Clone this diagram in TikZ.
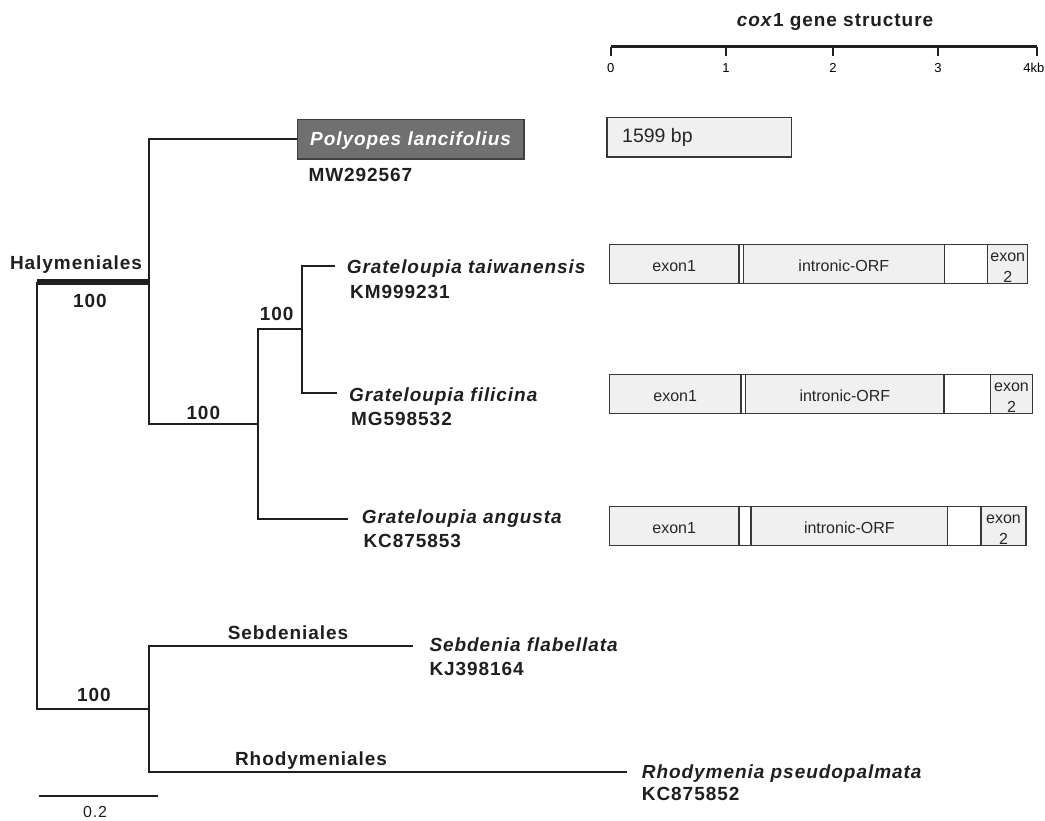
\documentclass[tikz,border=0pt]{standalone}
\usepackage{fontspec}
\setmainfont{Liberation Sans}
\newfontfamily\treefont{Liberation Sans}[LetterSpace=5]
\usepackage{tikz}

\definecolor{segfill}{gray}{0.94}
\definecolor{segline}{gray}{0.22}
\definecolor{polyfill}{gray}{0.44}
\definecolor{ink}{gray}{0.12}

\tikzset{
  branch/.style={line width=2pt, draw=ink},
  taxon/.style={font=\treefont\bfseries\itshape\fontsize{19}{21}\selectfont, text=ink, inner sep=0pt, text height=13.6pt, text depth=0pt, anchor=west},
  accno/.style={font=\treefont\bfseries\fontsize{19}{21}\selectfont, text=ink, inner sep=0pt, text height=13.6pt, text depth=0pt, anchor=west},
  clade/.style={font=\treefont\bfseries\fontsize{19}{21}\selectfont, text=ink, inner sep=0pt, text height=13.6pt, text depth=0pt},
  seg/.style={draw=segline, line width=1.2pt, fill=segfill},
  gapseg/.style={draw=segline, line width=1.2pt, fill=white},
  genetxt/.style={font=\fontsize{16}{18}\selectfont, text=black!85, inner sep=0pt, text height=11.5pt, text depth=0pt},
}

\begin{document}
\begin{tikzpicture}[x=1pt,y=-1pt]
\useasboundingbox (0,0) rectangle (1045,821);

% Gene scale
\node[clade] (title) at (835,20) {\textit{cox}1 gene structure};
\draw[line width=3pt, draw=ink] (610.7,46.7) -- (1036.7,46.7);
\foreach \x/\l in {610.7/0,726/1,833/2,938/3,1036.7/4}
\draw[line width=2pt, draw=ink] (\x,46.7) -- (\x,56);
\foreach \x/\l in {610.7/0,726/1,833/2,938/3}
\node[font=\fontsize{13}{15}\selectfont, inner sep=0pt, text height=9.3pt, text depth=0pt] (tick\l) at (\x,68.3) {\l};
\node[font=\fontsize{13}{15}\selectfont, inner sep=0pt, text height=9.3pt, text depth=0pt, anchor=east] (tick4) at (1044.5,68.3) {4kb};

% Polyopes gene
\draw[seg] (607,117.7) rectangle (791.7,157);
\node[font=\fontsize{19.5}{22}\selectfont, text=black!85, inner sep=0pt, text height=14pt, text depth=0pt, anchor=west] (bp) at (622,135.5) {1599 bp};

% Grateloupia genes
\foreach \t/\a/\b/\c/\d/\e/\f [count=\r] in {244.7/609.3/739/743.3/944.3/987.7/1027.7, 374.7/609.3/741/745.7/944/990.7/1032.3, 506.7/609.3/739/751/947.7/981/1026}{
  \draw[seg] (\a,\t) rectangle (\b,{\t+39});
  \draw[gapseg] (\b,\t) rectangle (\c,{\t+39});
  \draw[seg] (\c,\t) rectangle (\d,{\t+39});
  \draw[gapseg] (\d,\t) rectangle (\e,{\t+39});
  \draw[seg] (\e,\t) rectangle (\f,{\t+39});
  \node[genetxt] (exA\r) at ({(\a+\b)/2},{\t+21}) {exon1};
  \node[genetxt] (orf\r) at ({(\c+\d)/2},{\t+21}) {intronic-ORF};
  \node[genetxt, anchor=base] (exB\r) at ({(\e+\f)/2},{\t+17}) {exon};
  \node[genetxt, anchor=base] (exC\r) at ({(\e+\f)/2},{\t+38}) {2};
}

% Tree nodes
\coordinate (root) at (37,281.7);
\coordinate (hal) at (149,281.7);
\coordinate (gra) at (258,424);
\coordinate (inn) at (301.5,329.3);
\coordinate (outg) at (149,709);
\coordinate (taiE) at (335,265.7);
\coordinate (filE) at (337,393.3);
\coordinate (angE) at (348,519.3);
\coordinate (sebE) at (412.7,645.7);
\coordinate (rhoE) at (626.7,772.3);

% Taxa
\node[draw=black!75, line width=1.2pt, fill=polyfill, minimum width=226.7pt, minimum height=39.7pt,
  inner sep=0pt, text=white, text height=13.6pt, text depth=0pt,
  font=\treefont\bfseries\itshape\fontsize{19}{21}\selectfont] (poly) at (410.6,139.2) {Polyopes lancifolius};
\node[accno] (polyacc) at (308.3,175) {MW292567};
\node[taxon] (tai) at (346.7,266.7) {Grateloupia taiwanensis};
\node[accno] (taiacc) at (350,292) {KM999231};
\node[taxon] (fil) at (349,395) {Grateloupia filicina};
\node[accno] (filacc) at (351,418.3) {MG598532};
\node[taxon] (ang) at (361.7,516.7) {Grateloupia angusta};
\node[accno] (angacc) at (363.3,540.5) {KC875853};
\node[taxon] (seb) at (429.3,645) {Sebdenia flabellata};
\node[accno] (sebacc) at (429.3,668.3) {KJ398164};
\node[taxon] (rho) at (641.7,771.7) {Rhodymenia pseudopalmata};
\node[accno] (rhoacc) at (641.7,794) {KC875852};

% Branches
\draw[line width=6pt, draw=ink] (root) -- (hal);
\draw[branch] (root) |- (outg);
\draw[branch] (hal) |- (poly.west);
\draw[branch] (hal) |- (gra);
\draw[branch] (gra) |- (inn);
\draw[branch] (gra) |- (angE);
\draw[branch] (inn) |- (taiE);
\draw[branch] (inn) |- (filE);
\draw[branch] (outg) |- (sebE);
\draw[branch] (outg) |- (rhoE);

% Clade labels
\node[clade] (halym) at (76,262.7) {Halymeniales};
\node[clade] (bsHal) at (90,301) {100};
\node[clade] (bsGra) at (203.3,412.7) {100};
\node[clade] (bsInn) at (276.7,314) {100};
\node[clade] (bsOut) at (94,695) {100};
\node[clade] (sebd) at (288,632.7) {Sebdeniales};
\node[clade] (rhod) at (311,758.3) {Rhodymeniales};

% Scale bar
\coordinate (sbL) at (39,796.3);
\coordinate (sbR) at (157.7,796.3);
\draw[branch] (sbL) -- (sbR);
\node[font=\treefont\fontsize{16}{18}\selectfont, text=ink, inner sep=0pt, text height=11.5pt, text depth=0pt] (sblab) at (95,811.7) {0.2};
\end{tikzpicture}
\end{document}
